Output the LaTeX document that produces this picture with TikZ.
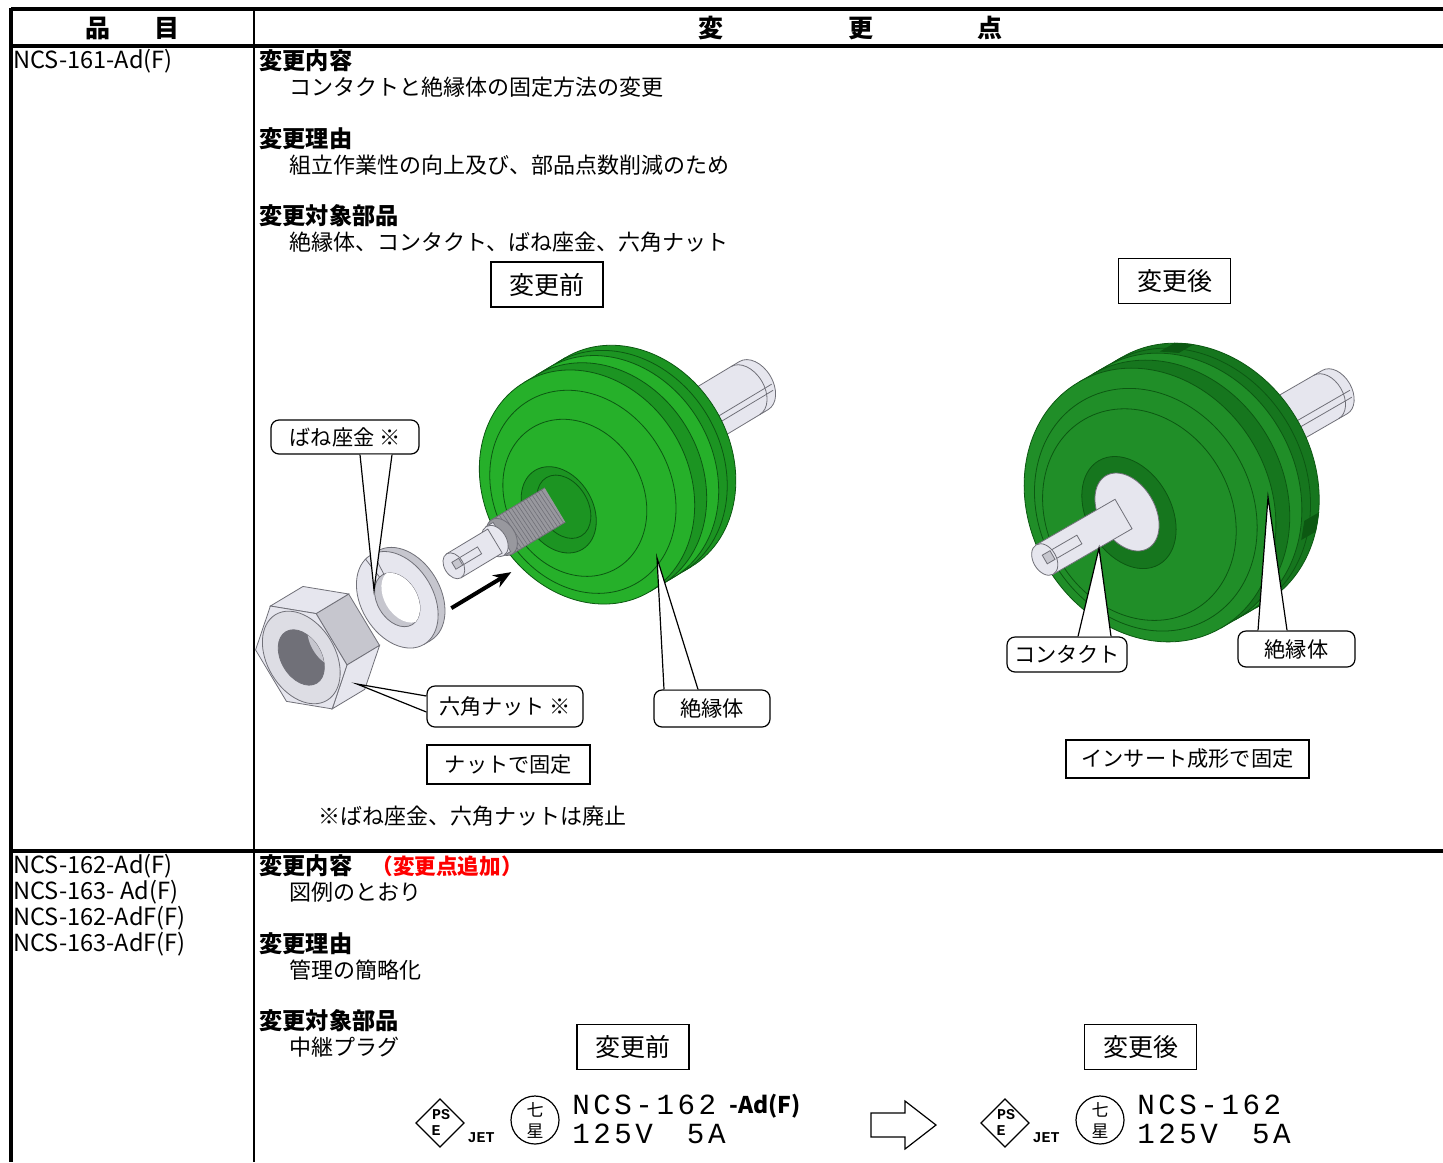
\documentclass[tikz,border=0pt]{standalone}
\usepackage{fontspec}
\setmainfont{Noto Sans CJK JP}
\newfontfamily\platefont{Liberation Mono}
\usetikzlibrary{arrows.meta}
\definecolor{gfront}{RGB}{38,176,42}
\definecolor{gside}{RGB}{28,148,34}
\definecolor{gline}{RGB}{12,88,18}
\definecolor{gafter}{RGB}{32,142,40}
\definecolor{gaside}{RGB}{22,118,30}
\definecolor{metal}{RGB}{230,230,238}
\definecolor{metalmid}{RGB}{198,198,206}
\definecolor{metaldark}{RGB}{112,112,120}
\definecolor{threadgray}{RGB}{152,152,158}

\begin{document}
\begin{tikzpicture}[x=0.5pt,y=-0.5pt,
	rule/.style={line width=1.75pt},
	thinrule/.style={line width=1pt},
	lbl/.style={anchor=west,inner sep=0pt,font=\fontsize{11}{13}\selectfont},
	partno/.style={anchor=west,inner sep=0pt,font=\fontsize{11.8}{13}\selectfont},
	head/.style={anchor=west,inner sep=0pt,font=\bfseries\fontsize{11.6}{13}\selectfont},
	tagbox/.style={draw,line width=0.9pt,inner sep=0pt,minimum width=56pt,minimum height=22.5pt,font=\fontsize{12.5}{14}\selectfont},
	fixbox/.style={draw,line width=0.9pt,inner sep=0pt,font=\fontsize{10.6}{12}\selectfont},
	callbox/.style={draw,fill=white,rounded corners=4pt,line width=0.6pt,inner sep=0pt,font=\fontsize{10.6}{12}\selectfont},
	gedge/.style={draw=gline,line width=0.4pt},
	medge/.style={draw=metaldark,line width=0.4pt},
	platetxt/.style={anchor=west,inner sep=0pt,text height=9pt,text depth=0.5pt,font=\platefont\fontsize{14.6}{15}\selectfont\addfontfeature{LetterSpace=12}}]
\fill[white] (0,0) rectangle (1443,1162);
\useasboundingbox (0,0) rectangle (1443,1162);

% table
\draw[rule] (11,9)--(1443,9);
\draw[rule] (11,46)--(1443,46);
\draw[rule] (11,851)--(1443,851);
\draw[rule] (11,8.2)--(11,1162);
\draw[thinrule] (254,9)--(254,1162);
\node[font=\bfseries\fontsize{12.5}{14}\selectfont] (hhin) at (132,28) {品\hspace{22pt}目};
\node[font=\bfseries\fontsize{12.5}{14}\selectfont] (hhen) at (850,28) {変\hspace{62.5pt}更\hspace{52pt}点};

% row 1
\node[partno] (p1) at (13,61) {NCS-161-Ad(F)};
\node[head] (h1) at (259,61) {変更内容};
\node[lbl] (b1) at (289,87) {コンタクトと絶縁体の固定方法の変更};
\node[head] (h2) at (259,139) {変更理由};
\node[lbl] (b2) at (289,165) {組立作業性の向上及び、部品点数削減のため};
\node[head] (h3) at (259,216) {変更対象部品};
\node[lbl] (b3) at (289,242) {絶縁体、コンタクト、ばね座金、六角ナット};
\node[tagbox] (mae1) at (547,284.5) {変更前};
\node[tagbox] (ato1) at (1174.5,281) {変更後};

% before: pin behind the insulator
\begin{scope}[shift={(555,505)},rotate=31]
	\filldraw[fill=metal,medge] (95,-28)--(232,-28) arc[start angle=-90,end angle=90,x radius=19,y radius=28]--(95,28)--cycle;
	\draw[medge] (222,-28) arc[start angle=-90,end angle=90,x radius=19,y radius=28];
	\draw[medge] (150,8)--(248,8) (150,14)--(246,14);
\end{scope}
% insulator (before)
\begin{scope}[shift={(587,487)},rotate=31]
	\filldraw[fill=gside,gedge] (48,0) ellipse (102 and 122);
	\fill[gside] (0,-122) rectangle (48,122);
	\draw[gedge] (0,-122)--(48,-122) (0,122)--(48,122);
	\filldraw[fill=gfront,gedge] (14,-122) arc[start angle=-90,end angle=90,x radius=102,y radius=122]--(28,122) arc[start angle=90,end angle=-90,x radius=102,y radius=122]--cycle;
	\draw[gedge] (38,-122) arc[start angle=-90,end angle=90,x radius=102,y radius=122];
	\filldraw[fill=gfront,gedge] (0,0) ellipse (102 and 122);
	\draw[gedge] (-6,2) ellipse (88 and 106);
	\draw[gedge] (-16,3) ellipse (68 and 82);
	\filldraw[fill=gside,gedge] (-36,5) ellipse (34 and 46);
	\draw[gedge] (-30,5) ellipse (24 and 34);
\end{scope}
% contact, washer, nut (before)
\begin{scope}[shift={(555,505)},rotate=31]
	\fill[threadgray] (-62,-20) rectangle (0,20);
	\foreach \u in {-60,-56.5,...,-3} \draw[metaldark,line width=0.3pt] (\u,-20)--({\u+2},20);
	\draw[medge] (-62,-20)--(0,-20) (-62,20)--(0,20);
	\filldraw[fill=threadgray,medge] (-62,0) ellipse (13.6 and 20);
	\filldraw[fill=metal,medge] (-70,-17) rectangle (-62,17);
	\filldraw[fill=metal,medge] (-70,0) ellipse (11.5 and 17);
	\filldraw[fill=metal,medge] (-118,-14) rectangle (-70,14);
	\draw[medge] (-112,-4)--(-88,-4)--(-88,4)--(-112,4);
	\filldraw[fill=metal,medge] (-118,0) ellipse (9.5 and 14);
	\filldraw[fill=metalmid,medge] (-118,-4) rectangle (-110,4);
	\coordinate (arrS) at (-142,35);
	\coordinate (arrE) at (-72,35);
	% spring washer
	\filldraw[fill=metalmid,medge] (-176,0) ellipse (36 and 52);
	\fill[metalmid] (-184,-52) rectangle (-176,52);
	\draw[medge] (-184,-52)--(-176,-52) (-184,52)--(-176,52);
	\filldraw[fill=metal,medge] (-184,0) ellipse (36 and 52);
	\filldraw[fill=metalmid,medge] (-184,0) ellipse (20 and 29);
	\begin{scope}
		\clip (-184,0) ellipse (20 and 29);
		\fill[white] (-176,0) ellipse (20 and 29);
	\end{scope}
	\draw[medge] (-187.5,-28.6)--(-190.3,-51.2) (-182.3,-28.9)--(-180.9,-51.8);
	% hex nut
	\filldraw[fill=metalmid,medge] (-260.7,-30)--(-260.7,30)--(-222.7,30)--(-222.7,-30)--cycle;
	\filldraw[fill=metal,medge] (-260.7,30)--(-296,60)--(-258,60)--(-222.7,30)--cycle;
	\filldraw[fill=metal,medge] (-296,-60)--(-260.7,-30)--(-222.7,-30)--(-258,-60)--cycle;
	\filldraw[fill=metal,medge] (-260.7,30)--(-296,60)--(-331.3,30)--(-331.3,-30)--(-296,-60)--(-260.7,-30)--cycle;
	\filldraw[fill=metal!96!black,medge] (-296,0) ellipse (34 and 50);
	\filldraw[fill=metaldark,medge] (-296,0) ellipse (20 and 30);
	\begin{scope}
		\clip (-296,0) ellipse (20 and 30);
		\fill[metalmid] (-262,0) ellipse (20 and 30);
	\end{scope}
\end{scope}
\draw[-{Stealth[length=9pt,width=7pt]},line width=2pt] (arrS)--(arrE);

% after: pin behind
\begin{scope}[shift={(1127,512)},rotate=30]
	\filldraw[fill=metal,medge] (85,-25)--(240,-25) arc[start angle=-90,end angle=90,x radius=17,y radius=25]--(85,25)--cycle;
	\draw[medge] (230,-25) arc[start angle=-90,end angle=90,x radius=17,y radius=25];
	\draw[medge] (140,6)--(254,6) (140,13)--(252,13);
\end{scope}
% insulator, insert moulded
\begin{scope}[shift={(1150,505)},rotate=30]
	\filldraw[fill=gaside,gedge] (50,0) ellipse (120 and 142);
	\fill[gaside] (0,-142) rectangle (50,142);
	\draw[gedge] (0,-142)--(50,-142) (0,142)--(50,142);
	\filldraw[fill=gafter,gedge] (16,-142) arc[start angle=-90,end angle=90,x radius=120,y radius=142]--(30,142) arc[start angle=90,end angle=-90,x radius=120,y radius=142]--cycle;
	\draw[gedge] (40,-142) arc[start angle=-90,end angle=90,x radius=120,y radius=142];
	\filldraw[fill=gline,gedge] ({50+120*cos(-64)},{142*sin(-64)})--++(-16,0)--({34+120*cos(-56)},{142*sin(-56)})--({50+120*cos(-56)},{142*sin(-56)})--cycle;
	\filldraw[fill=gline,gedge] ({50+120*cos(40)},{142*sin(40)})--++(-16,0)--({34+120*cos(48)},{142*sin(48)})--({50+120*cos(48)},{142*sin(48)})--cycle;
	\filldraw[fill=gafter,gedge] (0,0) ellipse (120 and 142);
	\draw[gedge] (-6,2) ellipse (106 and 126);
	\draw[gedge] (-14,3) ellipse (92 and 110);
	\filldraw[fill=gaside,gedge] (-22,-4) ellipse (42 and 60);
\end{scope}
% contact (after)
\begin{scope}[shift={(1127,512)},rotate=30]
	\filldraw[fill=metal,medge] (0,0) ellipse (28 and 42);
	\filldraw[fill=metal,medge] (-95,-17) rectangle (-4,17);
	\draw[medge] (-90,-5)--(-55,-5)--(-55,5)--(-90,5);
	\filldraw[fill=metal,medge] (-95,0) ellipse (11.5 and 17);
	\filldraw[fill=metalmid,medge] (-95,-5) rectangle (-86,5);
\end{scope}

% callouts
\node[callbox,minimum width=74pt,minimum height=17pt] (cbane) at (345,437) {ばね座金 ※};
\node[callbox,minimum width=78pt,minimum height=20.5pt] (cnut) at (505,706.5) {六角ナット ※};
\node[callbox,minimum width=58pt,minimum height=18.5pt] (czet1) at (712,708.5) {絶縁体};
\node[callbox,minimum width=60pt,minimum height=17.5pt] (ccon) at (1067,654.5) {コンタクト};
\node[callbox,minimum width=58.5pt,minimum height=18pt] (czet2) at (1296.5,649) {絶縁体};
\coordinate (tbane) at (374,590);
\coordinate (tnut) at (357,684);
\coordinate (tzet1) at (657,558);
\coordinate (tcon) at (1099,548);
\coordinate (tzet2) at (1268,497);
\fill[white] (tbane)--([xshift=7.5pt]cbane.south)--([xshift=23.5pt]cbane.south)--cycle;
\draw[line width=0.6pt] ([xshift=7.5pt]cbane.south)--(tbane)--([xshift=23.5pt]cbane.south);
\fill[white] (tnut)--([yshift=5.25pt]cnut.west)--([yshift=-2.75pt]cnut.west)--cycle;
\draw[line width=0.6pt] ([yshift=5.25pt]cnut.west)--(tnut)--([yshift=-2.75pt]cnut.west);
\fill[white] (tzet1)--([xshift=-24pt]czet1.north)--([xshift=-7pt]czet1.north)--cycle;
\draw[line width=0.6pt] ([xshift=-24pt]czet1.north)--(tzet1)--([xshift=-7pt]czet1.north);
\fill[white] (tcon)--([xshift=5.5pt]ccon.north)--([xshift=22pt]ccon.north)--cycle;
\draw[line width=0.6pt] ([xshift=5.5pt]ccon.north)--(tcon)--([xshift=22pt]ccon.north);
\fill[white] (tzet2)--([xshift=-19.25pt]czet2.north)--([xshift=-4.75pt]czet2.north)--cycle;
\draw[line width=0.6pt] ([xshift=-19.25pt]czet2.north)--(tzet2)--([xshift=-4.75pt]czet2.north);

\node[fixbox,minimum width=81.5pt,minimum height=19.5pt] (fixnut) at (508.5,764.5) {ナットで固定};
\node[fixbox,minimum width=121.5pt,minimum height=19pt] (fixins) at (1187.5,759) {インサート成形で固定};
\node[lbl] (haishi) at (318,816) {※ばね座金、六角ナットは廃止};

% row 2
\node[partno] (p2) at (13,866) {NCS-162-Ad(F)};
\node[partno] (p3) at (13,892) {NCS-163- Ad(F)};
\node[partno] (p4) at (13,918) {NCS-162-AdF(F)};
\node[partno] (p5) at (13,944) {NCS-163-AdF(F)};
\node[head] (h4) at (259,866) {変更内容};
\node[head,text=red,font=\bfseries\fontsize{10.8}{12}\selectfont] (tsuika) at (371,866) {（変更点追加）};
\node[lbl] (b4) at (289,892) {図例のとおり};
\node[head] (h5) at (259,944) {変更理由};
\node[lbl] (b5) at (289,970) {管理の簡略化};
\node[head] (h6) at (259,1021) {変更対象部品};
\node[lbl] (b6) at (289,1047) {中継プラグ};
\node[tagbox] (mae2) at (633,1047) {変更前};
\node[tagbox] (ato2) at (1140.5,1047) {変更後};

\foreach \dx/\nm in {0/l,565/r}{
	\begin{scope}[shift={(\dx,0)}]
		\draw[line width=0.6pt] (440,1099)--(464,1123)--(440,1147)--(416,1123)--cycle;
		\node[inner sep=0pt,font=\platefont\bfseries\fontsize{7.5}{8}\selectfont] (ps\nm) at (441,1115) {PS};
		\node[inner sep=0pt,font=\platefont\bfseries\fontsize{7.5}{8}\selectfont] (e\nm) at (436,1131) {E};
		\node[inner sep=0pt,font=\platefont\bfseries\fontsize{7.5}{8}\selectfont] (jet\nm) at (481,1138) {JET};
		\draw[line width=0.6pt] (535,1120) circle (24);
		\node[inner sep=0pt,font=\fontsize{8.5}{9}\selectfont] (nana\nm) at (535,1110) {七};
		\node[inner sep=0pt,font=\fontsize{8.5}{9}\selectfont] (hoshi\nm) at (535,1131) {星};
		\node[platetxt] (ncs\nm) at (572,1106) {NCS-162};
		\node[platetxt] (volt\nm) at (572,1135) {125V\hspace{17pt}5A};
	\end{scope}
}
\node[anchor=west,inner sep=0pt,font=\bfseries\fontsize{11.5}{13}\selectfont] (adf) at (729,1106) {-Ad(F)};
\draw[line width=0.6pt] (871,1113)--(905,1113)--(905,1101)--(936,1125)--(905,1149)--(905,1137)--(871,1137)--cycle;
\end{tikzpicture}
\end{document}
